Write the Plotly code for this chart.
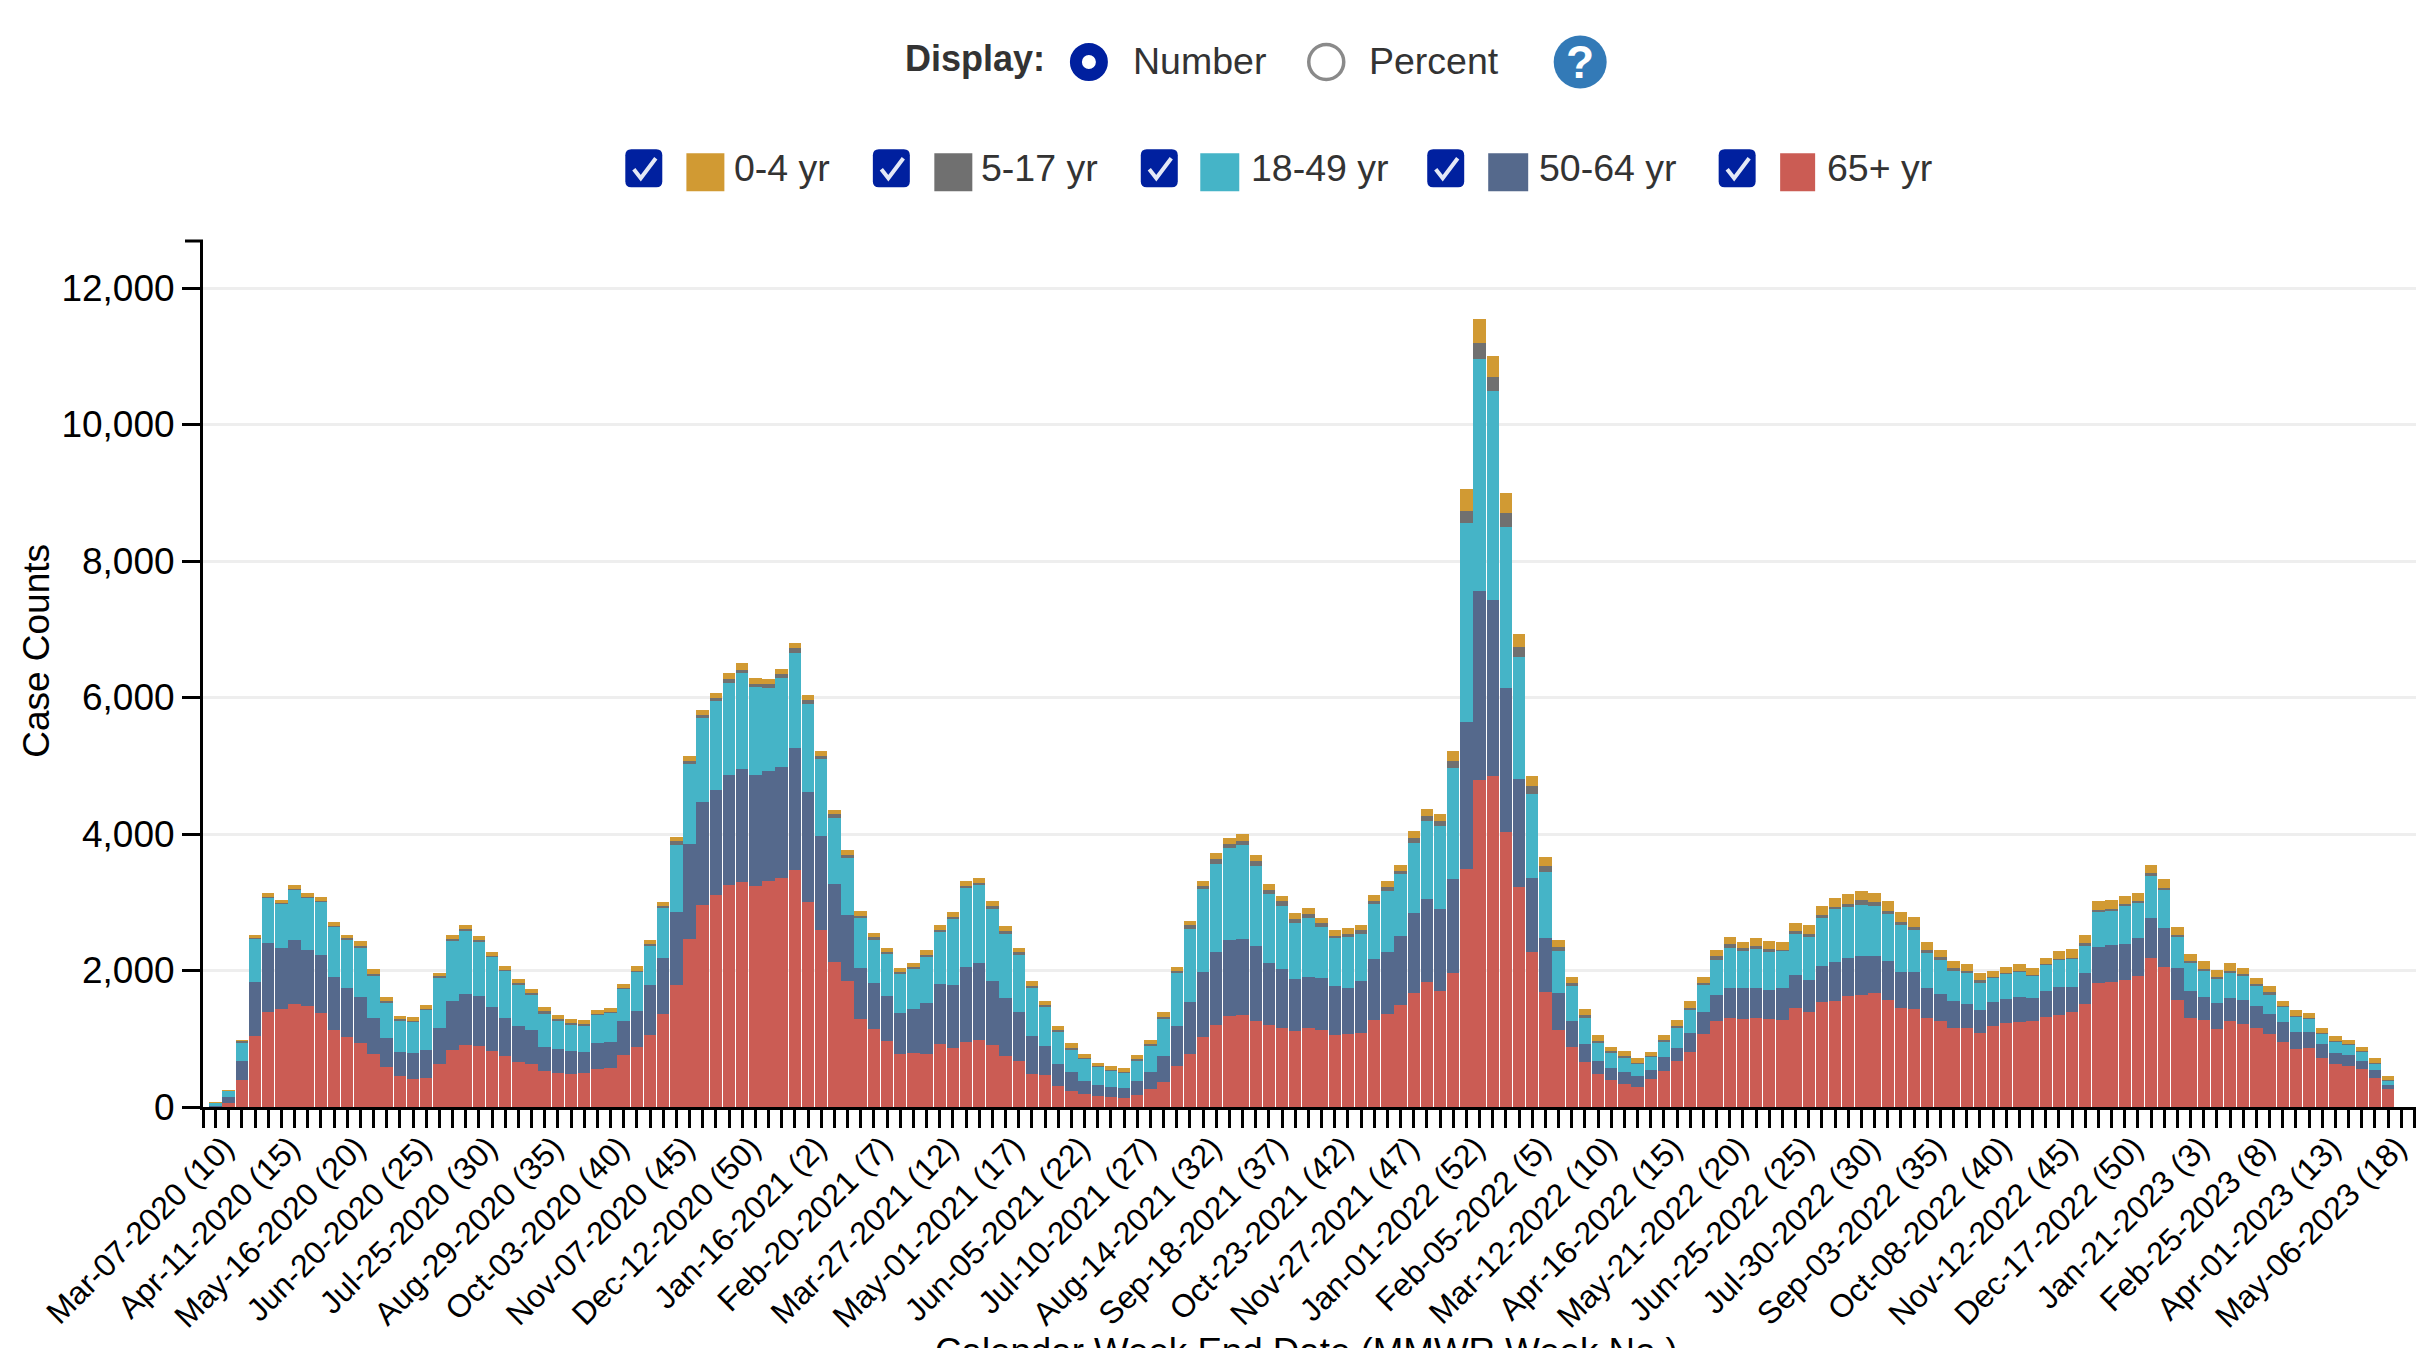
import plotly.graph_objects as go

W, H = 2416, 1348
L, T, R, B = 202.5, 240.7, 2416.0, 1106.7

TICK_LABELS = ["Mar-07-2020 (10)", "Apr-11-2020 (15)", "May-16-2020 (20)", "Jun-20-2020 (25)", "Jul-25-2020 (30)",
    "Aug-29-2020 (35)", "Oct-03-2020 (40)", "Nov-07-2020 (45)", "Dec-12-2020 (50)", "Jan-16-2021 (2)",
    "Feb-20-2021 (7)", "Mar-27-2021 (12)", "May-01-2021 (17)", "Jun-05-2021 (22)", "Jul-10-2021 (27)",
    "Aug-14-2021 (32)", "Sep-18-2021 (37)", "Oct-23-2021 (42)", "Nov-27-2021 (47)", "Jan-01-2022 (52)",
    "Feb-05-2022 (5)", "Mar-12-2022 (10)", "Apr-16-2022 (15)", "May-21-2022 (20)", "Jun-25-2022 (25)",
    "Jul-30-2022 (30)", "Sep-03-2022 (35)", "Oct-08-2022 (40)", "Nov-12-2022 (45)", "Dec-17-2022 (50)",
    "Jan-21-2023 (3)", "Feb-25-2023 (8)", "Apr-01-2023 (13)", "May-06-2023 (18)"]

age_65_plus = [10, 65, 390, 1040, 1385, 1430, 1502, 1478, 1380, 1122, 1029, 941, 771, 580, 449, 415, 420, 634, 839, 902,
    898, 815, 741, 659, 634, 522, 502, 478, 493, 551, 566, 761, 878, 1054, 1366, 1790, 2468, 2961, 3102, 3258,
    3293, 3244, 3317, 3351, 3473, 3005, 2600, 2127, 1844, 1283, 1137, 961, 780, 795, 776, 917, 863, 951, 980, 902,
    751, 668, 488, 463, 312, 229, 190, 161, 141, 127, 180, 268, 361, 595, 771, 1020, 1205, 1327, 1341, 1263,
    1195, 1151, 1117, 1161, 1122, 1049, 1073, 1088, 1278, 1361, 1488, 1668, 1834, 1707, 1966, 3482, 4785, 4846, 4034, 3221,
    2264, 1681, 1122, 885, 654, 486, 402, 340, 294, 405, 522, 670, 803, 1064, 1263, 1299, 1284, 1309, 1284, 1269,
    1448, 1396, 1535, 1560, 1621, 1637, 1667, 1565, 1453, 1437, 1309, 1263, 1156, 1161, 1079, 1192, 1233, 1243, 1253, 1320,
    1345, 1386, 1514, 1821, 1826, 1857, 1923, 2189, 2051, 1565, 1299, 1274, 1141, 1253, 1217, 1156, 1064, 951, 854, 859,
    721, 629, 598, 552, 430, 261]
age_50_64 = [10, 78, 288, 795, 1025, 907, 951, 824, 854, 776, 717, 673, 532, 424, 351, 371, 415, 527, 707, 756,
    722, 644, 561, 527, 493, 351, 346, 341, 317, 385, 380, 493, 522, 727, 820, 1073, 1385, 1512, 1546, 1600,
    1654, 1624, 1605, 1629, 1790, 1605, 1376, 1146, 971, 756, 678, 663, 600, 644, 751, 878, 927, 1098, 1137, 951,
    839, 722, 546, 424, 322, 278, 195, 166, 156, 151, 195, 239, 385, 585, 766, 951, 1063, 1117, 1117, 1102,
    917, 878, 756, 737, 771, 717, 673, 751, 893, 917, 1020, 1180, 1215, 1195, 1380, 2161, 2774, 2582, 2107, 1586,
    1088, 789, 544, 375, 276, 192, 169, 176, 153, 132, 205, 199, 276, 327, 384, 445, 460, 430, 430, 476,
    486, 460, 527, 563, 563, 578, 552, 578, 532, 542, 430, 399, 399, 353, 338, 343, 348, 368, 338, 373,
    419, 379, 450, 517, 542, 532, 552, 573, 573, 465, 404, 343, 384, 343, 348, 322, 297, 292, 240, 235,
    199, 159, 164, 128, 113, 66]
age_18_49 = [45, 93, 254, 639, 658, 639, 737, 766, 776, 746, 712, 727, 629, 532, 473, 463, 590, 737, 893, 927,
    800, 741, 693, 615, 527, 498, 420, 395, 390, 420, 434, 478, 580, 590, 741, 976, 1166, 1234, 1302, 1356,
    1415, 1288, 1210, 1307, 1395, 1302, 1117, 956, 834, 732, 629, 620, 580, 595, 673, 771, 961, 1161, 1137, 1044,
    951, 834, 722, 590, 473, 341, 332, 263, 244, 229, 312, 395, 556, 785, 1073, 1224, 1298, 1346, 1376, 1161,
    1010, 922, 829, 873, 751, 707, 746, 702, 805, 883, 917, 1024, 1146, 1210, 1615, 2912, 3402, 3065, 2360, 1793,
    1241, 966, 621, 513, 368, 261, 222, 215, 184, 205, 239, 297, 353, 399, 506, 593, 542, 578, 557, 542,
    598, 639, 706, 772, 742, 752, 721, 685, 675, 614, 522, 491, 440, 460, 414, 358, 368, 373, 332, 394,
    394, 409, 409, 532, 501, 568, 512, 619, 552, 471, 409, 379, 348, 368, 348, 292, 292, 225, 230, 199,
    159, 174, 148, 128, 97, 66]
age_5_17 = [2, 2, 44, 5, 10, 10, 10, 10, 15, 15, 15, 20, 20, 10, 10, 10, 15, 15, 20, 20,
    20, 15, 15, 15, 15, 29, 15, 20, 15, 10, 15, 15, 15, 20, 24, 54, 54, 39, 49, 54,
    44, 49, 59, 54, 68, 54, 49, 59, 44, 34, 44, 29, 20, 20, 34, 34, 34, 34, 34, 54,
    44, 54, 24, 15, 24, 20, 5, 5, 5, 10, 10, 24, 20, 24, 54, 44, 63, 63, 68, 73,
    63, 63, 59, 59, 54, 39, 49, 49, 49, 63, 29, 68, 68, 78, 102, 184, 230, 199, 207, 138,
    107, 92, 54, 38, 46, 31, 23, 15, 15, 10, 15, 15, 20, 31, 61, 56, 46, 46, 51, 20,
    41, 46, 46, 36, 51, 72, 61, 51, 56, 51, 46, 41, 36, 26, 26, 10, 10, 10, 10, 10,
    15, 15, 26, 15, 31, 15, 36, 41, 36, 26, 20, 31, 31, 36, 31, 31, 26, 10, 15, 10,
    10, 10, 10, 10, 10, 5]
age_0_4 = [5, 2, 2, 48, 54, 54, 54, 54, 58, 58, 54, 68, 63, 59, 54, 58, 58, 54, 68, 68,
    63, 63, 63, 58, 63, 59, 58, 49, 53, 59, 54, 59, 68, 63, 59, 68, 73, 73, 68, 88,
    93, 78, 78, 73, 78, 78, 73, 68, 68, 68, 63, 59, 54, 58, 63, 68, 73, 68, 63, 73,
    73, 54, 73, 68, 63, 63, 54, 54, 58, 58, 59, 54, 68, 63, 68, 78, 88, 93, 93, 98,
    88, 78, 83, 88, 68, 78, 78, 73, 88, 88, 98, 107, 102, 102, 151, 322, 352, 307, 284, 199,
    153, 130, 107, 100, 92, 84, 69, 69, 69, 59, 78, 87, 97, 87, 92, 92, 92, 107, 107, 107,
    123, 133, 128, 128, 148, 128, 138, 133, 138, 143, 113, 102, 107, 97, 102, 87, 87, 102, 102, 87,
    113, 123, 128, 138, 138, 113, 118, 118, 123, 113, 113, 107, 107, 107, 97, 82, 87, 77, 82, 77,
    72, 72, 67, 56, 61, 51]
Y_TICKS = [0, 2000, 4000, 6000, 8000, 10000, 12000]
SERIES = [("65+ yr", age_65_plus, "#CB5C54"), ("50-64 yr", age_50_64, "#55698C"),
          ("18-49 yr", age_18_49, "#45B4C7"), ("5-17 yr", age_5_17, "#707070"), ("0-4 yr", age_0_4, "#D19A33")]

FONT = "Liberation Sans, Arial, sans-serif"
SPACING = 13.17
x0 = -(215 - L) / SPACING
x1 = (R - 215) / SPACING
weeks = list(range(len(age_65_plus)))

fig = go.Figure()
for name, vals, col in SERIES:
    fig.add_bar(x=weeks, y=vals, name=name, marker=dict(color=col, line=dict(width=0)))

tickvals = [x0] + list(range(0, 168))
ticktext = [""] + [TICK_LABELS[i // 5] if i % 5 == 0 and i // 5 < len(TICK_LABELS) else "" for i in range(168)]

def px(x): return (x - L) / (R - L)
def py(y): return (B - y) / (B - T)

shapes, ann = [], []
def text(x, y, s, size=37.5, color="#333333", bold=False, anchor="left", angle=0):
    ann.append(dict(x=px(x), y=py(y), xref="paper", yref="paper", text=f"<b>{s}</b>" if bold else s, showarrow=False,
                    xanchor=anchor, yanchor="middle", textangle=angle, font=dict(family=FONT, size=size, color=color)))
def circle(cx, cy, r, fill, line=None, lw=0):
    shapes.append(dict(type="circle", xref="paper", yref="paper", x0=px(cx - r), x1=px(cx + r), y0=py(cy + r), y1=py(cy - r),
                       fillcolor=fill, line=dict(color=line or fill, width=lw)))
def rect(a, b, c, d, fill):
    shapes.append(dict(type="rect", xref="paper", yref="paper", x0=px(a), x1=px(c), y0=py(d), y1=py(b), fillcolor=fill, line=dict(width=0)))
def line(a, b, c, d, col, w):
    shapes.append(dict(type="line", xref="paper", yref="paper", x0=px(a), x1=px(c), y0=py(b), y1=py(d), line=dict(color=col, width=w)))
def rounded(a, b, c, d, r, fill):
    P = lambda x, y: f"{px(x):.5f},{py(y):.5f}"
    path = (f"M{P(a + r, b)} L{P(c - r, b)} Q{P(c, b)} {P(c, b + r)} L{P(c, d - r)} Q{P(c, d)} {P(c - r, d)} "
            f"L{P(a + r, d)} Q{P(a, d)} {P(a, d - r)} L{P(a, b + r)} Q{P(a, b)} {P(a + r, b)} Z")
    shapes.append(dict(type="path", xref="paper", yref="paper", path=path, fillcolor=fill, line=dict(width=0)))
def check(cx, cy):
    P = lambda x, y: f"{px(x):.5f},{py(y):.5f}"
    shapes.append(dict(type="path", xref="paper", yref="paper",
                       path=f"M{P(cx - 10, cy + 1)} L{P(cx - 3, cy + 10)} L{P(cx + 12, cy - 10)}",
                       fillcolor="rgba(0,0,0,0)", line=dict(color="#E4E8F6", width=4)))

# display controls
text(903, 58.5, "Display:", bold=True, size=36)
circle(1088.6, 61.7, 13, "#ffffff", "#00209F", 12)
text(1131, 61, "Number")
circle(1326, 61.7, 17.5, "#ffffff", "#8a8a8a", 3.5)
text(1367, 61, "Percent")
circle(1580, 61.7, 26.5, "#337AB7")
text(1580, 62, "?", size=46, color="#ffffff", bold=True, anchor="center")

# legend row
for cbx, sw0, sw1, tx, (name, _, col) in [
        (643.4, 686, 724, 732, SERIES[4]), (891, 934, 972, 979, SERIES[3]), (1159, 1200, 1239, 1248.5, SERIES[2]),
        (1445.5, 1488, 1528, 1536.5, SERIES[1]), (1737, 1780, 1815, 1824.5, SERIES[0])]:
    rounded(cbx - 18.5, 149, cbx + 18.5, 187, 6, "#00209F")
    check(cbx, 168)
    rect(sw0, 153, sw1, 191, col)
    text(tx, 168, name)

# outer tick at top of y axis
line(L - 18, T, L, T, "#000000", 3)

# axis titles (the bottom one runs off the page in the source)
text(36, 651, "Case Counts", size=37, color="#000000", anchor="center", angle=-90)
text(1306, 1351, "Calendar Week End Date (MMWR Week No.)", size=36.7, color="#000000", anchor="center")

fig.update_layout(
    width=W, height=H, autosize=False, barmode="stack", bargap=0.06, showlegend=False,
    paper_bgcolor="#ffffff", plot_bgcolor="#ffffff",
    margin=dict(l=L, r=W - R, t=T, b=H - B, pad=0, autoexpand=False),
    font=dict(family=FONT, color="#000000", size=36),
    shapes=shapes, annotations=ann,
    xaxis=dict(range=[x0, x1], tickmode="array", tickvals=tickvals, ticktext=ticktext, tickangle=-45, automargin=False,
               ticks="outside", ticklen=18, tickwidth=3, tickcolor="#000000", showline=True, linecolor="#000000", linewidth=3,
               showgrid=False, zeroline=False, tickfont=dict(family=FONT, size=32, color="#000000"),
               ticklabelstandoff=-12, ticklabelshift=9),
    yaxis=dict(range=[0, (B - T) / (136.5 / 2000)], tickmode="array", tickvals=Y_TICKS, tickformat=",d", automargin=False,
               ticks="outside", ticklen=18, tickwidth=3, tickcolor="#000000", showline=True, linecolor="#000000", linewidth=3,
               showgrid=True, gridcolor="#EEEEEE", gridwidth=3, zeroline=False,
               tickfont=dict(family=FONT, size=37, color="#000000")),
)

fig.write_html("out.html", config=dict(displayModeBar=False, responsive=False),
               post_script="document.body.style.margin='0';document.body.style.overflow='hidden';")
